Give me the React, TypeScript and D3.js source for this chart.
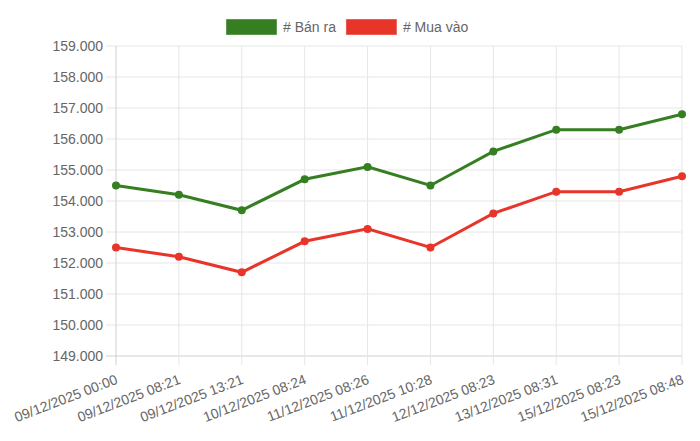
import * as d3 from "d3";
import { useEffect, useRef } from "react";

// labels + data
const labels = [
  "09/12/2025 00:00",
  "09/12/2025 08:21",
  "09/12/2025 13:21",
  "10/12/2025 08:24",
  "11/12/2025 08:26",
  "11/12/2025 10:28",
  "12/12/2025 08:23",
  "13/12/2025 08:31",
  "15/12/2025 08:23",
  "15/12/2025 08:48",
];
const banRa = [154500, 154200, 153700, 154700, 155100, 154500, 155600, 156300, 156300, 156800];
const muaVao = [152500, 152200, 151700, 152700, 153100, 152500, 153600, 154300, 154300, 154800];
const yTicks = [149000, 150000, 151000, 152000, 153000, 154000, 155000, 156000, 157000, 158000, 159000];

const seriesList = [
  { name: "# Bán ra", values: banRa, color: "#367e22" },
  { name: "# Mua vào", values: muaVao, color: "#e8352a" },
];

const W = 700, H = 441;
const FONT = "'Liberation Sans', Arial, Helvetica, sans-serif";

const App = () => {
  const ref: any = useRef();

  useEffect(() => {
    const svg = d3.select(ref.current);
    svg.selectAll("*").remove();

    const left = 116, right = 682, top = 46, bottom = 356;

    const x = d3.scalePoint<string>().domain(labels).range([left, right]);
    const y = d3.scaleLinear().domain([149000, 159000]).range([bottom, top]);
    const fmt = (v: number) => d3.format(",")(v).replace(/,/g, ".");

    // horizontal grid
    svg.append("g").selectAll("line").data(yTicks).join("line")
      .attr("x1", left - 10).attr("x2", right)
      .attr("y1", (d) => y(d)).attr("y2", (d) => y(d))
      .attr("stroke", (d) => (d === 149000 ? "#d0d0d0" : "#e6e6e6"))
      .attr("stroke-width", 1);

    // vertical grid
    svg.append("g").selectAll("line").data(labels).join("line")
      .attr("x1", (d) => x(d)!).attr("x2", (d) => x(d)!)
      .attr("y1", top).attr("y2", bottom + 9)
      .attr("stroke", (d, i) => (i === 0 ? "#d0d0d0" : "#e6e6e6"))
      .attr("stroke-width", 1);

    // y labels
    svg.append("g").selectAll("text").data(yTicks).join("text")
      .attr("x", left - 13).attr("y", (d) => y(d))
      .attr("dy", "0.35em")
      .attr("text-anchor", "end")
      .attr("font-family", FONT).attr("font-size", 14).attr("fill", "#666")
      .text((d) => fmt(d));

    // x labels, rotated
    svg.append("g").selectAll("text").data(labels).join("text")
      .attr("transform", (d) => `translate(${x(d)! - 1},${bottom + 18}) rotate(-21)`)
      .attr("dy", "0.7em")
      .attr("text-anchor", "end")
      .attr("font-family", FONT).attr("font-size", 14).attr("fill", "#666")
      .text((d) => d);

    // lines + points
    const line = d3.line<number>()
      .x((_, i) => x(labels[i])!)
      .y((d) => y(d));

    seriesList.forEach((s) => {
      svg.append("path")
        .datum(s.values)
        .attr("fill", "none")
        .attr("stroke", s.color)
        .attr("stroke-width", 3)
        .attr("d", line);
      svg.append("g").selectAll("circle").data(s.values).join("circle")
        .attr("cx", (_, i) => x(labels[i])!)
        .attr("cy", (d) => y(d))
        .attr("r", 4)
        .attr("fill", s.color);
    });

    // legend
    const legend = svg.append("g");
    let lx = 226;
    seriesList.forEach((s) => {
      legend.append("rect")
        .attr("x", lx).attr("y", 19).attr("width", 51).attr("height", 16)
        .attr("fill", s.color).attr("stroke", "#ffffff66");
      const t = legend.append("text")
        .attr("x", lx + 57).attr("y", 27).attr("dy", "0.35em")
        .attr("font-family", FONT).attr("font-size", 14).attr("fill", "#666")
        .text(s.name);
      const w = (t.node() as SVGTextElement).getComputedTextLength();
      lx = lx + 57 + w + 10;
    });
  }, []);

  return <svg ref={ref} width={W} height={H} style={{ display: "block", margin: -8 }} />;
};

export default App;
